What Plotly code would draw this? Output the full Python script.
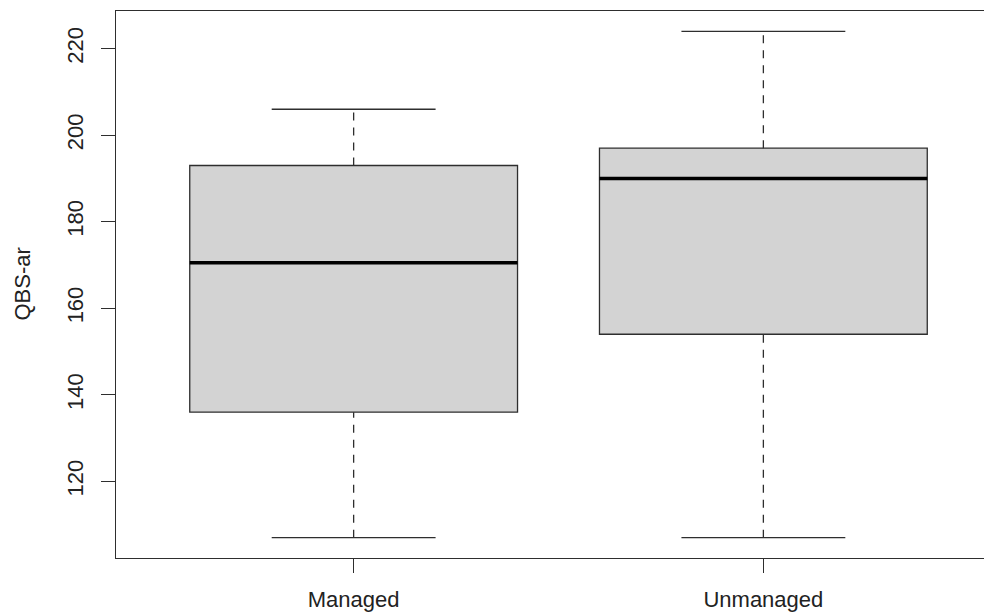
import plotly.graph_objects as go

# Data (R-style boxplot)
categories = ["Managed", "Unmanaged"]
lower_whisker = [107, 107]
q1_values = [136, 154]
median_values = [170.5, 190]
q3_values = [193, 197]
upper_whisker = [206, 224]
y_ticks = [120, 140, 160, 180, 200, 220]

positions = [1, 2]
BOX_HALF = 0.4
CAP_HALF = 0.2
LINE_COL = "#2e2e2e"
FONT = "Liberation Sans, Arial, sans-serif"

fig = go.Figure()

for i, cat in enumerate(categories):
    c = positions[i]
    # box body
    fig.add_trace(go.Box(
        x=[c], q1=[q1_values[i]], median=[median_values[i]], q3=[q3_values[i]],
        lowerfence=[q1_values[i]], upperfence=[q3_values[i]],
        width=2 * BOX_HALF, fillcolor="#d3d3d3",
        line=dict(color=LINE_COL, width=1.3), boxpoints=False,
        name=cat, showlegend=False, hoverinfo="skip",
    ))
    # dashed whiskers
    fig.add_trace(go.Scatter(
        x=[c, c], y=[q3_values[i], upper_whisker[i]], mode="lines",
        line=dict(color=LINE_COL, width=1.3, dash="8px,7px"),
        showlegend=False, hoverinfo="skip"))
    fig.add_trace(go.Scatter(
        x=[c, c], y=[lower_whisker[i], q1_values[i]], mode="lines",
        line=dict(color=LINE_COL, width=1.3, dash="8px,7px"),
        showlegend=False, hoverinfo="skip"))
    # caps
    for v in (upper_whisker[i], lower_whisker[i]):
        fig.add_trace(go.Scatter(
            x=[c - CAP_HALF, c + CAP_HALF], y=[v, v], mode="lines",
            line=dict(color=LINE_COL, width=1.3),
            showlegend=False, hoverinfo="skip"))
    # thick median
    fig.add_trace(go.Scatter(
        x=[c - BOX_HALF, c + BOX_HALF], y=[median_values[i], median_values[i]],
        mode="lines", line=dict(color="#000000", width=3.5),
        showlegend=False, hoverinfo="skip"))

# the page body adds an 8px margin, so the figure is sized/offset to compensate
fig.update_layout(
    width=984, height=607,
    margin=dict(l=108, r=0, t=3, b=57),
    paper_bgcolor="white", plot_bgcolor="white",
    font=dict(family=FONT, size=22, color="#222222"),
    showlegend=False,
    xaxis=dict(
        range=[0.42, 2.558], tickmode="array", tickvals=positions, ticktext=categories,
        showgrid=False, zeroline=False, showline=True, mirror=True,
        linecolor=LINE_COL, linewidth=1.3,
        ticks="outside", ticklen=14, tickwidth=1.3, tickcolor=LINE_COL,
        ticklabelstandoff=7,
    ),
    yaxis=dict(
        range=[102.3, 228.7], tickmode="array", tickvals=y_ticks,
        showgrid=False, zeroline=False, showline=True, mirror=False,
        linecolor=LINE_COL, linewidth=1.3,
        ticks="outside", ticklen=14, tickwidth=1.3, tickcolor=LINE_COL,
        tickangle=-90, ticklabelstandoff=9,
    ),
    annotations=[dict(
        text="QBS-ar", xref="paper", yref="paper",
        x=-94 / 876, y=0.5, xanchor="center", yanchor="middle",
        textangle=-90, showarrow=False, font=dict(family=FONT, size=22, color="#222222"),
    )],
)

fig.write_html("out.html")
